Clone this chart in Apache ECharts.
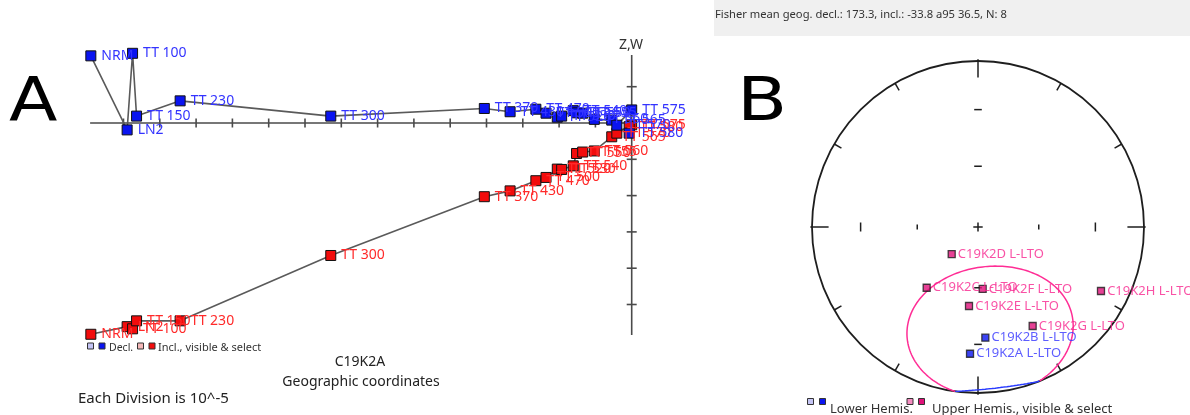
<!DOCTYPE html>
<html>
<head>
<meta charset="utf-8">
<script src="https://cdn.jsdelivr.net/npm/echarts@6/dist/echarts.min.js"></script>
<style>
  html, body { margin: 0; padding: 0; background: #fff; }
  #chart { width: 1190px; height: 415px; }
</style>
</head>
<body>
<div id="chart"></div>
<script>
// ---- Zijderveld diagram, specimen C19K2A (units: 1e-5 per division) ----
const steps    = ['NRM', 'LN2', 'TT 100', 'TT 150', 'TT 230', 'TT 300', 'TT 370', 'TT 430', 'TT 470', 'TT 500',
                  'TT 520', 'TT 530', 'TT 540', 'TT 550', 'TT 555', 'TT 560', 'TT 565', 'TT 570', 'TT 575', 'TT 580'];
const northComp = [-14.90, -13.90, -13.75, -13.64, -12.44, -8.29, -4.06, -3.35, -2.64, -2.36,
                   -2.05, -1.93, -1.61, -1.52, -1.35, -1.03, -0.55, -0.41, 0.00, -0.07];
const westComp  = [1.85, -0.19, 1.92, 0.19, 0.61, 0.19, 0.40, 0.31, 0.38, 0.27,
                   0.16, 0.19, 0.34, 0.28, 0.27, 0.10, 0.08, -0.06, 0.36, -0.28];
const upComp    = [-5.82, -5.61, -5.67, -5.45, -5.45, -3.65, -2.03, -1.87, -1.59, -1.50,
                   -1.27, -1.28, -1.18, -0.84, -0.80, -0.77, -0.38, -0.28, -0.05, -0.10];
const hAxisExtent = [-14.92, 0];
const vAxisExtent = [-5.84, 1.87];
const hTicks = [-14, -13, -12, -11, -10, -9, -8, -7, -6, -5, -4, -3, -2, -1];
const vTicks = [1, -1, -2, -3, -4, -5];

// ---- Equal-area stereonet, site C19K2 L-LTO directions ----
const specimens = ['C19K2A L-LTO', 'C19K2B L-LTO', 'C19K2C L-LTO', 'C19K2D L-LTO',
                   'C19K2E L-LTO', 'C19K2F L-LTO', 'C19K2G L-LTO', 'C19K2H L-LTO'];
const declinations = [183.6, 176.2, 220.2, 224.2, 186.5, 175.7, 151.1, 117.5];
const inclinations = [24.5, 33.6, -50.4, -71.5, -50.4, -59.3, -32.4, -17.6];
const meanDecl = 173.3;
const meanIncl = -33.8;
const alpha95 = 36.5;
const siteN = 8;
const azimuthTicks = [0, 30, 60, 90, 120, 150, 180, 210, 240, 270, 300, 330];
const inclTicks = [30, 60];

const D2R = Math.PI / 180;
const FONT = 'Noto Sans';

// Lambert equal-area projection, unit primitive circle
function project(dec, inc) {
  const r = Math.SQRT2 * Math.sin((90 - Math.abs(inc)) / 2 * D2R);
  return [r * Math.sin(dec * D2R), r * Math.cos(dec * D2R)];
}

// confidence cone around the mean, split into upper/lower hemisphere runs
function coneSegments() {
  const ci = Math.cos(meanIncl * D2R), si = Math.sin(meanIncl * D2R);
  const m = [ci * Math.cos(meanDecl * D2R), ci * Math.sin(meanDecl * D2R), si];
  const u = [-si * Math.cos(meanDecl * D2R), -si * Math.sin(meanDecl * D2R), ci];
  const w = [m[1] * u[2] - m[2] * u[1], m[2] * u[0] - m[0] * u[2], m[0] * u[1] - m[1] * u[0]];
  const ca = Math.cos(alpha95 * D2R), sa = Math.sin(alpha95 * D2R);
  const segs = [];
  let cur = null, curUpper = null;
  for (let t = 0; t <= 360; t += 1) {
    const ct = Math.cos(t * D2R), st = Math.sin(t * D2R);
    const p = [0, 1, 2].map(k => ca * m[k] + sa * (ct * u[k] + st * w[k]));
    const inc = Math.asin(Math.max(-1, Math.min(1, p[2]))) / D2R;
    const dec = Math.atan2(p[1], p[0]) / D2R;
    const pt = project(dec, inc);
    const upper = inc < 0;
    if (cur === null || upper !== curUpper) {
      if (cur) cur.data.push(pt);
      cur = { upper: upper, data: [] };
      segs.push(cur);
      curUpper = upper;
    }
    cur.data.push(pt);
  }
  return segs;
}

const chart = echarts.init(document.getElementById('chart'), null, { renderer: 'canvas' });

const BLUE_FILL = '#0a14f0', BLUE_TEXT = '#3434ff';
const RED_FILL = '#f20c0c', RED_TEXT = '#ff2a2a';
const PINK_FILL = '#e0127a', PINK_TEXT = '#f7268f';

const declSeriesData = northComp.map((n, i) => [n, westComp[i]]);
const inclSeriesData = northComp.map((n, i) => [n, upComp[i]]);

function zijSeries(name, data, fill, textColor) {
  return {
    name: name, type: 'line', xAxisIndex: 0, yAxisIndex: 0,
    data: data, symbol: 'rect', symbolSize: 10, clip: false,
    lineStyle: { color: '#5a5a5a', width: 1.6 },
    itemStyle: { color: fill, borderColor: '#111', borderWidth: 1 },
    label: {
      show: true, position: 'right', distance: 5,
      formatter: p => steps[p.dataIndex],
      color: textColor, fontFamily: FONT, fontSize: 14
    },
    animation: false, z: 3
  };
}

const stereoData = specimens.map((s, i) => {
  const lower = inclinations[i] >= 0;
  return {
    value: project(declinations[i], inclinations[i]),
    itemStyle: { color: lower ? BLUE_FILL : PINK_FILL },
    label: { color: lower ? BLUE_TEXT : PINK_TEXT }
  };
});

const coneSeries = coneSegments().map(seg => ({
  type: 'line', xAxisIndex: 1, yAxisIndex: 1, data: seg.data,
  showSymbol: false, clip: false, animation: false, z: 2,
  lineStyle: { color: seg.upper ? '#ff2d95' : '#2a3cff', width: 1.5 }
}));

const BIG = '"DejaVu Sans"';

const option = {
  backgroundColor: '#ffffff',
  animation: false,
  grid: [
    { left: 87.2, top: 50.4, width: 598.95, height: 290.4 },
    { left: 795.4, top: 44.4, width: 365.2, height: 365.2 }
  ],
  xAxis: [
    { type: 'value', gridIndex: 0, min: -15, max: 1.5, show: false },
    { type: 'value', gridIndex: 1, min: -1.1, max: 1.1, show: false }
  ],
  yAxis: [
    { type: 'value', gridIndex: 0, min: -6, max: 2, show: false },
    { type: 'value', gridIndex: 1, min: -1.1, max: 1.1, show: false }
  ],
  series: [
    {
      // Zijderveld axes with crossing division ticks
      type: 'custom', xAxisIndex: 0, yAxisIndex: 0, data: [[0, 0]], clip: false, silent: true, z: 1,
      renderItem: function (params, api) {
        const st = { stroke: '#4a4a4a', lineWidth: 1.6 };
        const a = api.coord([hAxisExtent[0], 0]), b = api.coord([hAxisExtent[1], 0]);
        const c = api.coord([0, vAxisExtent[0]]), d = api.coord([0, vAxisExtent[1]]);
        const kids = [
          { type: 'line', shape: { x1: a[0], y1: a[1], x2: b[0], y2: b[1] }, style: st },
          { type: 'line', shape: { x1: c[0], y1: c[1], x2: d[0], y2: d[1] }, style: st }
        ];
        hTicks.forEach(v => {
          const p = api.coord([v, 0]);
          kids.push({ type: 'line', shape: { x1: p[0], y1: p[1] - 4.5, x2: p[0], y2: p[1] + 4.5 }, style: st });
        });
        vTicks.forEach(v => {
          const p = api.coord([0, v]);
          kids.push({ type: 'line', shape: { x1: p[0] - 5, y1: p[1], x2: p[0] + 5, y2: p[1] }, style: st });
        });
        return { type: 'group', children: kids };
      }
    },
    zijSeries('Incl.', inclSeriesData, RED_FILL, RED_TEXT),
    zijSeries('Decl.', declSeriesData, BLUE_FILL, BLUE_TEXT),
    {
      // stereonet primitive, azimuth ticks and inclination marks
      type: 'custom', xAxisIndex: 1, yAxisIndex: 1, data: [[0, 0]], clip: false, silent: true, z: 1,
      renderItem: function (params, api) {
        const c = api.coord([0, 0]);
        const R = api.size([1, 1])[0];
        const st = { stroke: '#1e1e1e', lineWidth: 1.5 };
        const kids = [{ type: 'circle', shape: { cx: c[0], cy: c[1], r: R }, style: { fill: null, stroke: '#1e1e1e', lineWidth: 1.8 } }];
        azimuthTicks.forEach(az => {
          const major = az % 90 === 0;
          const r0 = major ? 0.9 : 0.95, r1 = major ? 1.01 : 1.0;
          const s = Math.sin(az * D2R), k = Math.cos(az * D2R);
          const p0 = api.coord([r0 * s, r0 * k]), p1 = api.coord([r1 * s, r1 * k]);
          kids.push({ type: 'line', shape: { x1: p0[0], y1: p0[1], x2: p1[0], y2: p1[1] }, style: st });
        });
        inclTicks.forEach(inc => {
          const r = project(0, inc)[1];
          const hl = inc === 30 ? 4.5 : 2.5;
          [-1, 1].forEach(sg => {
            const ph = api.coord([sg * r, 0]);
            kids.push({ type: 'line', shape: { x1: ph[0], y1: ph[1] - hl, x2: ph[0], y2: ph[1] + hl }, style: st });
            const pv = api.coord([0, sg * r]);
            kids.push({ type: 'line', shape: { x1: pv[0] - 3.8, y1: pv[1], x2: pv[0] + 3.8, y2: pv[1] }, style: st });
          });
        });
        kids.push({ type: 'line', shape: { x1: c[0] - 4.7, y1: c[1], x2: c[0] + 4.7, y2: c[1] }, style: st });
        kids.push({ type: 'line', shape: { x1: c[0], y1: c[1] - 4.5, x2: c[0], y2: c[1] + 4.5 }, style: st });
        return { type: 'group', children: kids };
      }
    },
    ...coneSeries,
    {
      type: 'scatter', xAxisIndex: 1, yAxisIndex: 1, data: stereoData,
      symbol: 'rect', symbolSize: 7, clip: false, z: 4,
      itemStyle: { borderColor: '#1a1a1a', borderWidth: 1.3 },
      label: {
        show: true, position: 'right', distance: 2,
        formatter: p => specimens[p.dataIndex],
        fontFamily: FONT, fontSize: 13
      }
    }
  ],
  graphic: [
    { type: 'text', x: 9, y: 104, scaleX: 1.16, style: { text: 'A', font: '61px ' + BIG, fill: '#000', verticalAlign: 'middle' } },
    { type: 'text', x: 737, y: 104, scaleX: 1.2, style: { text: 'B', font: '61px ' + BIG, fill: '#000', verticalAlign: 'middle' } },
    { type: 'text', x: 631, y: 45, style: { text: 'Z,W', font: '14px "' + FONT + '"', fill: '#333', align: 'center', verticalAlign: 'middle' } },
    { type: 'text', x: 360, y: 362, style: { text: 'C19K2A', font: '14px "' + FONT + '"', fill: '#222', align: 'center', verticalAlign: 'middle' } },
    { type: 'text', x: 361, y: 382, style: { text: 'Geographic coordinates', font: '14px "' + FONT + '"', fill: '#222', align: 'center', verticalAlign: 'middle' } },
    { type: 'text', x: 78, y: 399, style: { text: 'Each Division is 10^-5', font: '15px "' + FONT + '"', fill: '#222', verticalAlign: 'middle' } },
    // Zijderveld legend
    { type: 'rect', shape: { x: 87.5, y: 343, width: 6, height: 6 }, style: { fill: '#c4c4f4', stroke: '#333', lineWidth: 1 } },
    { type: 'rect', shape: { x: 99, y: 343, width: 6, height: 6 }, style: { fill: '#0a14f0', stroke: '#333', lineWidth: 1 } },
    { type: 'text', x: 109, y: 348, style: { text: 'Decl.', font: '10.5px "' + FONT + '"', fill: '#333', verticalAlign: 'middle' } },
    { type: 'rect', shape: { x: 137.5, y: 343, width: 6, height: 6 }, style: { fill: '#f4b8b8', stroke: '#333', lineWidth: 1 } },
    { type: 'rect', shape: { x: 149, y: 343, width: 6, height: 6 }, style: { fill: '#f20c0c', stroke: '#333', lineWidth: 1 } },
    { type: 'text', x: 158, y: 348, style: { text: 'Incl., visible & select', font: '11px "' + FONT + '"', fill: '#333', verticalAlign: 'middle' } },
    // stereonet header and legend
    { type: 'rect', shape: { x: 714, y: 0, width: 476, height: 36 }, style: { fill: '#f0f0f0' } },
    { type: 'text', x: 715, y: 15, style: { text: 'Fisher mean geog. decl.: ' + meanDecl + ', incl.: ' + meanIncl + ' a95 ' + alpha95 + ', N: ' + siteN, font: '11.2px "' + FONT + '"', fill: '#333', verticalAlign: 'middle' } },
    { type: 'rect', shape: { x: 807.5, y: 398.5, width: 6, height: 6 }, style: { fill: '#c4c4f4', stroke: '#333', lineWidth: 1 } },
    { type: 'rect', shape: { x: 819.5, y: 398.5, width: 6, height: 6 }, style: { fill: '#0a14f0', stroke: '#333', lineWidth: 1 } },
    { type: 'text', x: 830, y: 409, style: { text: 'Lower Hemis.', font: '13px "' + FONT + '"', fill: '#333', verticalAlign: 'middle' } },
    { type: 'rect', shape: { x: 907, y: 398.5, width: 6, height: 6 }, style: { fill: '#f48cc0', stroke: '#333', lineWidth: 1 } },
    { type: 'rect', shape: { x: 918.5, y: 398.5, width: 6, height: 6 }, style: { fill: '#e0127a', stroke: '#333', lineWidth: 1 } },
    { type: 'text', x: 932, y: 409, style: { text: 'Upper Hemis., visible & select', font: '13px "' + FONT + '"', fill: '#333', verticalAlign: 'middle' } }
  ]
};

chart.setOption(option);
</script>
</body>
</html>
